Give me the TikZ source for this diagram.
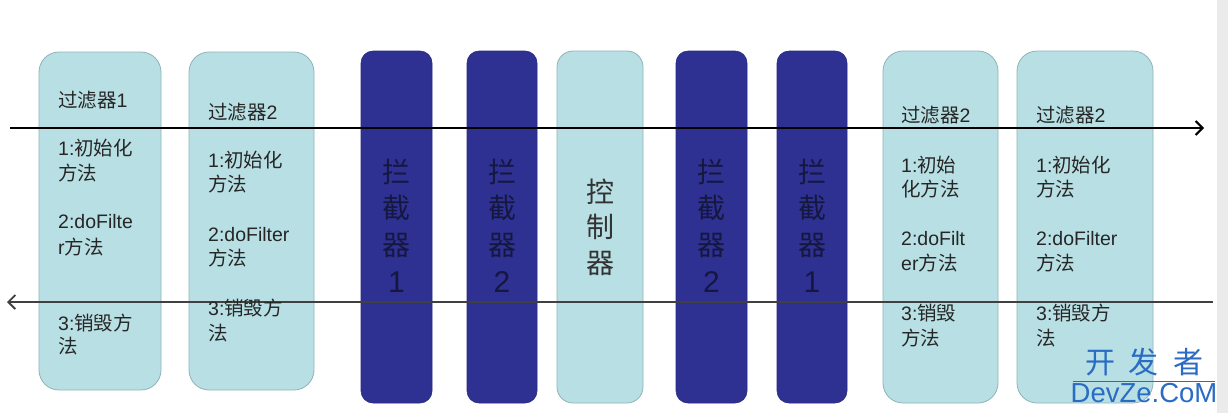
\documentclass[tikz,border=0pt]{standalone}
\usepackage{fontspec}
\setmainfont{Liberation Sans}
\newfontfamily\cjk{Noto Sans CJK SC}
\usetikzlibrary{arrows.meta}
\definecolor{lightbox}{HTML}{B8E0E4}
\definecolor{lightedge}{HTML}{8FB3B7}
\definecolor{darkbox}{HTML}{2E3192}
\definecolor{darkedge}{HTML}{262A80}
\definecolor{darktext}{HTML}{15173F}
\definecolor{wm}{HTML}{2A6CC4}
\tikzset{
  lightcol/.style={draw=lightedge, fill=lightbox, line width=0.8pt, rounded corners=20pt},
  darkcol/.style={draw=darkedge, fill=darkbox, line width=0.6pt, rounded corners=12pt},
  txt/.style={anchor=west, inner sep=0pt, font=\fontsize{19.5}{22}\selectfont, text=black!85},
  big/.style={anchor=center, inner sep=0pt, font=\fontsize{28}{30}\selectfont, text=darktext},
  bigl/.style={anchor=center, inner sep=0pt, font=\fontsize{30}{32}\selectfont, text=darktext},
  flow/.style={line width=2.2pt, black, -{Straight Barb[length=7pt,width=14pt,line width=2pt]}},
  back/.style={line width=1.5pt, black!75, -{Straight Barb[length=7pt,width=14pt,line width=1.8pt]}},
}
\begin{document}
\begin{tikzpicture}[x=1pt,y=-1pt]
\useasboundingbox (0,0) rectangle (1228,413);
\fill[white] (0,0) rectangle (1228,413);
\fill[black!8] (1217,0) rectangle (1228,413);
% columns
\path[lightcol] (39,52) rectangle (161,390) node[coordinate] (f1) {};
\path[lightcol] (189,52) rectangle (314,390) node[coordinate] (f2) {};
\path[darkcol] (361,51) rectangle (432,403) node[coordinate] (i1) {};
\path[darkcol] (467,51) rectangle (537,403) node[coordinate] (i2) {};
\path[lightcol, rounded corners=16pt] (557,51) rectangle (643,403) node[coordinate] (ctl) {};
\path[darkcol] (676,51) rectangle (747,403) node[coordinate] (i2b) {};
\path[darkcol] (777,51) rectangle (847,403) node[coordinate] (i1b) {};
\path[lightcol] (883,51) rectangle (998,403) node[coordinate] (f2b) {};
\path[lightcol] (1017,51) rectangle (1153,403) node[coordinate] (f2c) {};
% flow lines
\coordinate (ts) at (10,128);
\coordinate (te) at (1204,128);
\coordinate (bs) at (1213,302);
\coordinate (be) at (7,302);
\draw[flow] (ts) -- (te);
\draw[back] (bs) -- (be);
% filter 1
\node[txt] (a1) at (58,100) {{\cjk 过滤器}1};
\node[txt] (a2) at (58,148) {1:{\cjk 初始化}};
\node[txt] (a3) at (58,173) {\cjk 方法};
\node[txt] (a4) at (58,222) {2:doFilte};
\node[txt] (a5) at (58,247) {r{\cjk 方法}};
\node[txt] (a6) at (58,323) {3:{\cjk 销毁方}};
\node[txt] (a7) at (58,346) {\cjk 法};
% filter 2
\node[txt] (b1) at (208,112) {{\cjk 过滤器}2};
\node[txt] (b2) at (208,160) {1:{\cjk 初始化}};
\node[txt] (b3) at (208,184) {\cjk 方法};
\node[txt] (b4) at (208,235) {2:doFilter};
\node[txt] (b5) at (208,258) {\cjk 方法};
\node[txt] (b6) at (208,308) {3:{\cjk 销毁方}};
\node[txt] (b7) at (208,333) {\cjk 法};
% interceptors / controller
\node[big] (c1) at (396.5,172) {\cjk 拦};
\node[big] (c2) at (396.5,208) {\cjk 截};
\node[big] (c3) at (396.5,245) {\cjk 器};
\node[bigl] (c4) at (396.5,282) {1};
\node[big] (d1) at (502,172) {\cjk 拦};
\node[big] (d2) at (502,208) {\cjk 截};
\node[big] (d3) at (502,245) {\cjk 器};
\node[bigl] (d4) at (502,282) {2};
\node[big, text=black!80] (e1) at (600,192) {\cjk 控};
\node[big, text=black!80] (e2) at (600,227) {\cjk 制};
\node[big, text=black!80] (e3) at (600,263) {\cjk 器};
\node[big] (g1) at (711.5,172) {\cjk 拦};
\node[big] (g2) at (711.5,208) {\cjk 截};
\node[big] (g3) at (711.5,245) {\cjk 器};
\node[bigl] (g4) at (711.5,282) {2};
\node[big] (h1) at (812,172) {\cjk 拦};
\node[big] (h2) at (812,208) {\cjk 截};
\node[big] (h3) at (812,245) {\cjk 器};
\node[bigl] (h4) at (812,282) {1};
% filter 2 (right)
\node[txt] (k1) at (901,115) {{\cjk 过滤器}2};
\node[txt] (k2) at (901,165) {1:{\cjk 初始}};
\node[txt] (k3) at (901,189) {\cjk 化方法};
\node[txt] (k4) at (901,239) {2:doFilt};
\node[txt] (k5) at (901,263) {er{\cjk 方法}};
\node[txt] (k6) at (901,313) {3:{\cjk 销毁}};
\node[txt] (k7) at (901,338) {\cjk 方法};
% filter 2 (far right)
\node[txt] (m1) at (1036,115) {{\cjk 过滤器}2};
\node[txt] (m2) at (1036,165) {1:{\cjk 初始化}};
\node[txt] (m3) at (1036,189) {\cjk 方法};
\node[txt] (m4) at (1036,239) {2:doFilter};
\node[txt] (m5) at (1036,263) {\cjk 方法};
\node[txt] (m6) at (1036,313) {3:{\cjk 销毁方}};
\node[txt] (m7) at (1036,338) {\cjk 法};
% watermark
\node[anchor=center, inner sep=0pt, text=wm, font=\cjk\fontsize{30}{32}\selectfont] (w1) at (1144,362) {开\hspace{14pt}发\hspace{14pt}者};
\node[anchor=center, inner sep=0pt, text=wm, font=\fontsize{27.5}{30}\selectfont] (w2) at (1144,393) {DevZe.CoM};
\draw[wm, line width=0.8pt] (1073,381) -- (1215,381);
\end{tikzpicture}
\end{document}
